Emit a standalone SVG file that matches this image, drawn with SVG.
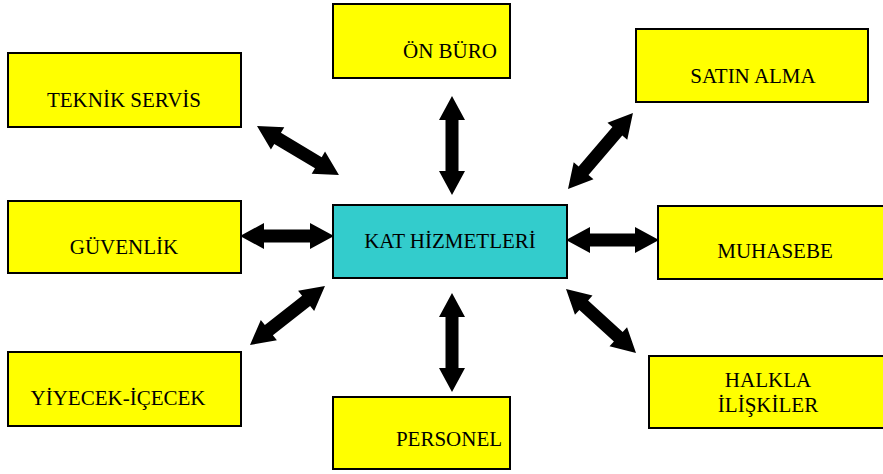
<svg xmlns="http://www.w3.org/2000/svg" width="883" height="474" viewBox="0 0 883 474">
<style>
.box{fill:#FFFF00;stroke:#000;stroke-width:2}
.center{fill:#33CCCC;stroke:#000;stroke-width:2}
.t{font-family:"Liberation Serif","Times New Roman",serif;font-size:21px;fill:#000;text-anchor:middle}
.arr{fill:#000}
</style>
<rect width="883" height="474" fill="#fff"/>
<g id="teknik-servis"><rect class="box" x="8" y="53" width="233" height="74"/><text class="t" x="124" y="107">TEKNİK SERVİS</text></g>
<g id="on-buro"><rect class="box" x="333" y="4" width="177" height="74"/><text class="t" x="450" y="58">ÖN BÜRO</text></g>
<g id="satin-alma"><rect class="box" x="636" y="29" width="232" height="73"/><text class="t" x="753" y="83">SATIN ALMA</text></g>
<g id="guvenlik"><rect class="box" x="8" y="201" width="233" height="72"/><text class="t" x="124" y="254">GÜVENLİK</text></g>
<g id="kat-hizmetleri"><rect class="center" x="333" y="205" width="234" height="73"/><text class="t" x="450" y="248">KAT HİZMETLERİ</text></g>
<g id="muhasebe"><rect class="box" x="658" y="206" width="228" height="73"/><text class="t" x="775" y="258">MUHASEBE</text></g>
<g id="halkla-iliskiler"><rect class="box" x="649" y="356" width="236" height="72"/><text class="t" x="768" y="387">HALKLA</text><text class="t" x="768" y="412">İLİŞKİLER</text></g>
<g id="yiyecek-icecek"><rect class="box" x="8" y="352" width="233" height="74"/><text class="t" x="118" y="405">YİYECEK-İÇECEK</text></g>
<g id="personel"><rect class="box" x="333" y="397" width="177" height="72"/><text class="t" x="449" y="446">PERSONEL</text></g>
<g id="connectors" class="arr">
<polygon transform="translate(257,126) rotate(30.9)" points="0,0 24,-13 24,-6.5 71.5,-6.5 71.5,-13 95.5,0 71.5,13 71.5,6.5 24,6.5 24,13"/>
<polygon transform="translate(452,96) rotate(90)" points="0,0 24,-13 24,-6.5 75,-6.5 75,-13 99,0 75,13 75,6.5 24,6.5 24,13"/>
<polygon transform="translate(568,189) rotate(-49.5)" points="0,0 24,-13 24,-6.5 76,-6.5 76,-13 100,0 76,13 76,6.5 24,6.5 24,13"/>
<polygon transform="translate(240,236)" points="0,0 24,-13 24,-6.5 70,-6.5 70,-13 94,0 70,13 70,6.5 24,6.5 24,13"/>
<polygon transform="translate(566,240)" points="0,0 24,-13 24,-6.5 69,-6.5 69,-13 93,0 69,13 69,6.5 24,6.5 24,13"/>
<polygon transform="translate(250,345) rotate(-38.2)" points="0,0 24,-13 24,-6.5 71.4,-6.5 71.4,-13 95.4,0 71.4,13 71.4,6.5 24,6.5 24,13"/>
<polygon transform="translate(566,289) rotate(42.4)" points="0,0 24,-13 24,-6.5 70.8,-6.5 70.8,-13 94.8,0 70.8,13 70.8,6.5 24,6.5 24,13"/>
<polygon transform="translate(452,293) rotate(90)" points="0,0 24,-13 24,-6.5 75,-6.5 75,-13 99,0 75,13 75,6.5 24,6.5 24,13"/>
</g>
</svg>
